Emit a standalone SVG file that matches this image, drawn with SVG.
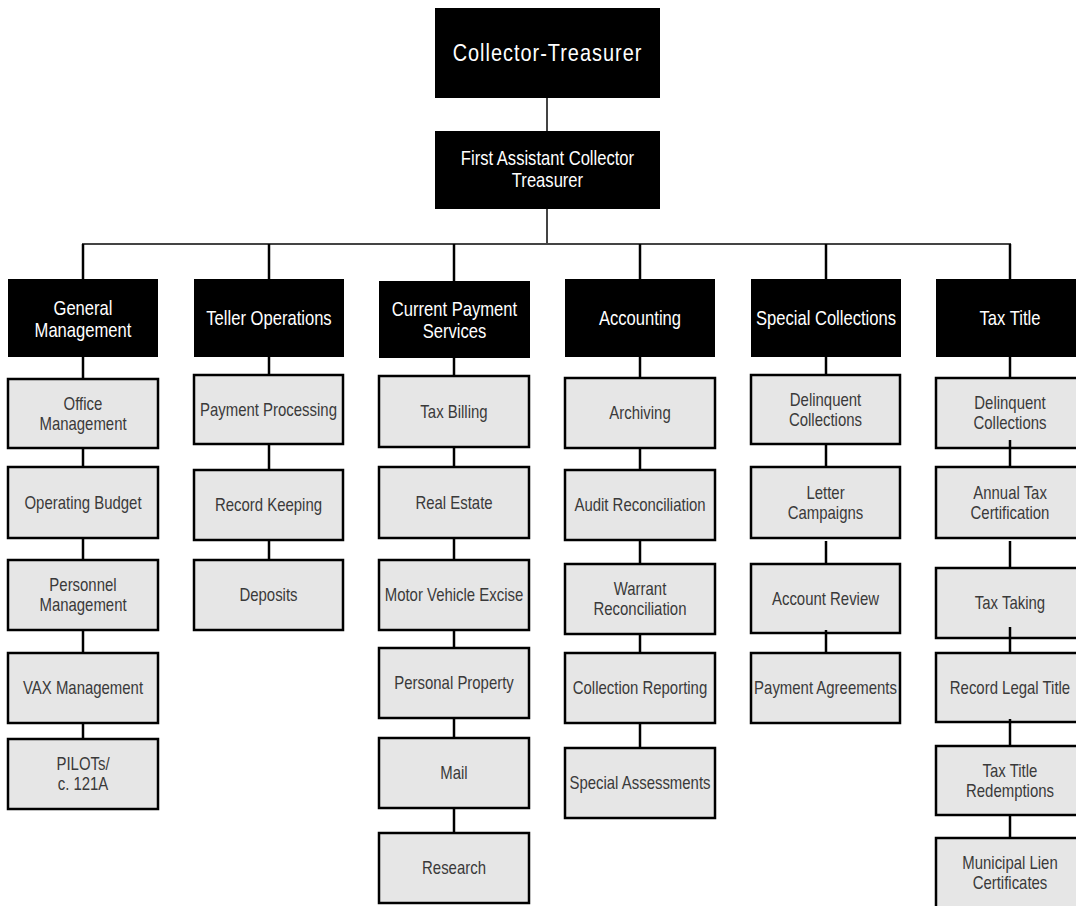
<svg xmlns="http://www.w3.org/2000/svg" width="1076" height="906" viewBox="0 0 1076 906">
  <style>
    text { font-family: "Liberation Sans", Arial, sans-serif; text-anchor: middle; transform-box: fill-box; transform-origin: center; transform: scaleX(0.83); }
    .dark rect { fill: #000; }
    .dark text { fill: #fff; font-size: 20px; }
    .unit rect { fill: #e6e6e6; stroke: #000; stroke-width: 2.5; }
    .unit text { fill: #3a3a3a; font-size: 18px; }
    .title text { font-size: 24px; letter-spacing: 1.2px; }
    .link { stroke: #000; stroke-width: 2.5; fill: none; }
    .trunk { stroke: #444; stroke-width: 2; fill: none; }
  </style>

  <!-- connectors -->
  <g id="connectors">
    <line class="trunk" x1="547" y1="98" x2="547" y2="131" stroke="#777"/>
    <line class="trunk" x1="547" y1="209" x2="547" y2="244"/>
    <line class="trunk" x1="82" y1="244" x2="1011" y2="244"/>
    <line class="link" x1="83" y1="244" x2="83" y2="279" stroke-width="2"/>
    <line class="link" x1="269" y1="244" x2="269" y2="279" stroke-width="2"/>
    <line class="link" x1="454" y1="244" x2="454" y2="281" stroke-width="2"/>
    <line class="link" x1="640" y1="244" x2="640" y2="279" stroke-width="2"/>
    <line class="link" x1="826" y1="244" x2="826" y2="279" stroke-width="2"/>
    <line class="link" x1="1010" y1="244" x2="1010" y2="279" stroke-width="2"/>
    <!-- General Management column -->
    <line class="link" x1="83" y1="357" x2="83" y2="379"/>
    <line class="link" x1="83" y1="448" x2="83" y2="467"/>
    <line class="link" x1="83" y1="538" x2="83" y2="560"/>
    <line class="link" x1="83" y1="630" x2="83" y2="653"/>
    <line class="link" x1="83" y1="723" x2="83" y2="739"/>
    <!-- Teller Operations column -->
    <line class="link" x1="269" y1="357" x2="269" y2="375"/>
    <line class="link" x1="269" y1="444" x2="269" y2="470"/>
    <line class="link" x1="269" y1="540" x2="269" y2="560"/>
    <!-- Current Payment Services column -->
    <line class="link" x1="454" y1="358" x2="454" y2="376"/>
    <line class="link" x1="454" y1="447" x2="454" y2="467"/>
    <line class="link" x1="454" y1="538" x2="454" y2="560"/>
    <line class="link" x1="454" y1="630" x2="454" y2="648"/>
    <line class="link" x1="454" y1="718" x2="454" y2="738"/>
    <line class="link" x1="454" y1="808" x2="454" y2="833"/>
    <!-- Accounting column -->
    <line class="link" x1="640" y1="357" x2="640" y2="378"/>
    <line class="link" x1="640" y1="448" x2="640" y2="470"/>
    <line class="link" x1="640" y1="540" x2="640" y2="564"/>
    <line class="link" x1="640" y1="634" x2="640" y2="653"/>
    <line class="link" x1="640" y1="723" x2="640" y2="748"/>
    <!-- Special Collections column -->
    <line class="link" x1="826" y1="357" x2="826" y2="375"/>
    <line class="link" x1="826" y1="444" x2="826" y2="467"/>
    <line class="link" x1="826" y1="541" x2="826" y2="564"/>
    <!-- Tax Title column -->
    <line class="link" x1="1010" y1="357" x2="1010" y2="378"/>
    <line class="link" x1="1010" y1="541" x2="1010" y2="568"/>
  </g>

  <g id="collector-treasurer" class="dark title">
    <rect x="435" y="8" width="225" height="90"/>
    <text x="547.5" y="61">Collector-Treasurer</text>
  </g>
  <g id="first-assistant" class="dark">
    <rect x="435" y="131" width="225" height="78"/>
    <text x="547.5" y="165">First Assistant Collector</text>
    <text x="547.5" y="187">Treasurer</text>
  </g>

  <!-- division heads -->
  <g id="general-management" class="dark">
    <rect x="8" y="279" width="150" height="78"/>
    <text x="83" y="315">General</text>
    <text x="83" y="337">Management</text>
  </g>
  <g id="teller-operations" class="dark">
    <rect x="194" y="279" width="150" height="78"/>
    <text x="269" y="325">Teller Operations</text>
  </g>
  <g id="current-payment-services" class="dark">
    <rect x="379" y="281" width="151" height="77"/>
    <text x="454.5" y="316">Current Payment</text>
    <text x="454.5" y="338">Services</text>
  </g>
  <g id="accounting" class="dark">
    <rect x="565" y="279" width="150" height="78"/>
    <text x="640" y="325">Accounting</text>
  </g>
  <g id="special-collections" class="dark">
    <rect x="751" y="279" width="150" height="78"/>
    <text x="826" y="325">Special Collections</text>
  </g>
  <g id="tax-title" class="dark">
    <rect x="936" y="279" width="150" height="78"/>
    <text x="1010" y="325">Tax Title</text>
  </g>

  <!-- General Management units -->
  <g id="office-management" class="unit">
    <rect x="8" y="379" width="150" height="69"/>
    <text x="83" y="410">Office</text>
    <text x="83" y="430">Management</text>
  </g>
  <g id="operating-budget" class="unit">
    <rect x="8" y="467" width="150" height="71"/>
    <text x="83" y="509">Operating Budget</text>
  </g>
  <g id="personnel-management" class="unit">
    <rect x="8" y="560" width="150" height="70"/>
    <text x="83" y="591.5">Personnel</text>
    <text x="83" y="611.5">Management</text>
  </g>
  <g id="vax-management" class="unit">
    <rect x="8" y="653" width="150" height="70"/>
    <text x="83" y="694.5">VAX Management</text>
  </g>
  <g id="pilots" class="unit">
    <rect x="8" y="739" width="150" height="70"/>
    <text x="83" y="770.5">PILOTs/</text>
    <text x="83" y="790.5">c. 121A</text>
  </g>

  <!-- Teller Operations units -->
  <g id="payment-processing" class="unit">
    <rect x="194" y="375" width="149" height="69"/>
    <text x="268.5" y="416">Payment Processing</text>
  </g>
  <g id="record-keeping" class="unit">
    <rect x="194" y="470" width="149" height="70"/>
    <text x="268.5" y="511.5">Record Keeping</text>
  </g>
  <g id="deposits" class="unit">
    <rect x="194" y="560" width="149" height="70"/>
    <text x="268.5" y="601.5">Deposits</text>
  </g>

  <!-- Current Payment Services units -->
  <g id="tax-billing" class="unit">
    <rect x="379" y="376" width="150" height="71"/>
    <text x="454" y="418">Tax Billing</text>
  </g>
  <g id="real-estate" class="unit">
    <rect x="379" y="467" width="150" height="71"/>
    <text x="454" y="509">Real Estate</text>
  </g>
  <g id="motor-vehicle-excise" class="unit">
    <rect x="379" y="560" width="150" height="70"/>
    <text x="454" y="601.5">Motor Vehicle Excise</text>
  </g>
  <g id="personal-property" class="unit">
    <rect x="379" y="648" width="150" height="70"/>
    <text x="454" y="689.5">Personal Property</text>
  </g>
  <g id="mail" class="unit">
    <rect x="379" y="738" width="150" height="70"/>
    <text x="454" y="779.5">Mail</text>
  </g>
  <g id="research" class="unit">
    <rect x="379" y="833" width="150" height="70"/>
    <text x="454" y="874.5">Research</text>
  </g>

  <!-- Accounting units -->
  <g id="archiving" class="unit">
    <rect x="565" y="378" width="150" height="70"/>
    <text x="640" y="419.5">Archiving</text>
  </g>
  <g id="audit-reconciliation" class="unit">
    <rect x="565" y="470" width="150" height="70"/>
    <text x="640" y="511.5">Audit Reconciliation</text>
  </g>
  <g id="warrant-reconciliation" class="unit">
    <rect x="565" y="564" width="150" height="70"/>
    <text x="640" y="595.5">Warrant</text>
    <text x="640" y="615.5">Reconciliation</text>
  </g>
  <g id="collection-reporting" class="unit">
    <rect x="565" y="653" width="150" height="70"/>
    <text x="640" y="694.5">Collection Reporting</text>
  </g>
  <g id="special-assessments" class="unit">
    <rect x="565" y="748" width="150" height="70"/>
    <text x="640" y="789.5">Special Assessments</text>
  </g>

  <!-- Special Collections units -->
  <g id="sc-delinquent-collections" class="unit">
    <rect x="751" y="375" width="149" height="69"/>
    <text x="825.5" y="406">Delinquent</text>
    <text x="825.5" y="426">Collections</text>
  </g>
  <g id="letter-campaigns" class="unit">
    <rect x="751" y="467" width="149" height="71"/>
    <text x="825.5" y="499">Letter</text>
    <text x="825.5" y="519">Campaigns</text>
  </g>
  <g id="account-review" class="unit">
    <rect x="751" y="564" width="149" height="69"/>
    <text x="825.5" y="605">Account Review</text>
  </g>
  <g id="payment-agreements" class="unit">
    <rect x="751" y="653" width="149" height="70"/>
    <text x="825.5" y="694.5">Payment Agreements</text>
  </g>

  <!-- Tax Title units -->
  <g id="tt-delinquent-collections" class="unit">
    <rect x="936" y="378" width="150" height="70"/>
    <text x="1010" y="409.5">Delinquent</text>
    <text x="1010" y="429.5">Collections</text>
  </g>
  <g id="annual-tax-certification" class="unit">
    <rect x="936" y="467" width="150" height="71"/>
    <text x="1010" y="499">Annual Tax</text>
    <text x="1010" y="519">Certification</text>
  </g>
  <g id="tax-taking" class="unit">
    <rect x="936" y="568" width="150" height="70"/>
    <text x="1010" y="609.5">Tax Taking</text>
  </g>
  <g id="record-legal-title" class="unit">
    <rect x="936" y="653" width="150" height="69"/>
    <text x="1010" y="694">Record Legal Title</text>
  </g>
  <g id="tax-title-redemptions" class="unit">
    <rect x="936" y="746" width="150" height="69"/>
    <text x="1010" y="777">Tax Title</text>
    <text x="1010" y="797">Redemptions</text>
  </g>
  <g id="municipal-lien-certificates" class="unit">
    <rect x="936" y="838" width="150" height="70"/>
    <text x="1010" y="869.5">Municipal Lien</text>
    <text x="1010" y="889.5">Certificates</text>
  </g>

  <!-- links that run over the unit boxes they join -->
  <g id="overlaid-connectors">
    <line class="link" x1="826" y1="630" x2="826" y2="653"/>
    <line class="link" x1="1010" y1="440" x2="1010" y2="467"/>
    <line class="link" x1="1010" y1="627" x2="1010" y2="653"/>
    <line class="link" x1="1010" y1="719" x2="1010" y2="746"/>
    <line class="link" x1="1010" y1="815" x2="1010" y2="838"/>
  </g>
</svg>
